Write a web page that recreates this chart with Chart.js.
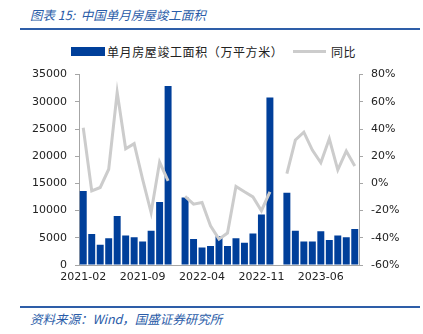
<!DOCTYPE html>
<html>
<head>
<meta charset="utf-8">
<script src="https://cdn.jsdelivr.net/npm/chart.js@4"></script>
<style>
    body { margin: 0; width: 423px; height: 334px; background: #fff; position: relative; overflow: hidden; font-family: "DejaVu Sans", sans-serif; }
    .title { position: absolute; left: 30px; top: 5px; font: italic 12.5px "Noto Sans CJK SC"; color: #2a5ca8; white-space: pre; }
    .rule { position: absolute; left: 20px; width: 400px; height: 2px; background: #2e5ea8; }
    .lg { position: absolute; font: 12px "Noto Sans CJK SC"; color: #222; white-space: nowrap; letter-spacing: 0.6px; }
    .swatch-bar { position: absolute; left: 71px; top: 47px; width: 34px; height: 9px; background: #003f9a; }
    .swatch-line { position: absolute; left: 293px; top: 50px; width: 33px; height: 3px; background: #cccccc; }
    .source { position: absolute; left: 30px; font: italic 12.5px "Noto Sans CJK SC"; color: #2a5ca8; }
    #wrap { position: absolute; left: 0; top: 60px; width: 423px; height: 235px; }
</style>
</head>
<body>
<div class="title">图表 15:  中国单月房屋竣工面积</div>
<div class="rule" style="top:28px"></div>
<div class="swatch-bar"></div>
<div class="lg" style="left:107px; top:43px">单月房屋竣工面积（万平方米）</div>
<div class="swatch-line"></div>
<div class="lg" style="left:331px; top:43px">同比</div>
<div id="wrap"><canvas id="chart"></canvas></div>
<div class="rule" style="top:306px"></div>
<div class="source" style="top:309px">资料来源：Wind，国盛证券研究所</div>
<script>
'use strict';

// 월별 카테고리 (1월은 데이터 없음)
const months = [
    '2021-02', '2021-03', '2021-04', '2021-05', '2021-06', '2021-07', '2021-08', '2021-09', '2021-10', '2021-11', '2021-12',
    '2022-01', '2022-02', '2022-03', '2022-04', '2022-05', '2022-06', '2022-07', '2022-08', '2022-09', '2022-10', '2022-11', '2022-12',
    '2023-01', '2023-02', '2023-03', '2023-04', '2023-05', '2023-06', '2023-07', '2023-08', '2023-09', '2023-10'
];

// 단월 준공면적 (만㎡)
const area = [
    13600, 5700, 3700, 4900, 9000, 5400, 5100, 4300, 6300, 11600, 32900,
    null, 12400, 4800, 3200, 3500, 5300, 3500, 4900, 4100, 5800, 9300, 30800,
    null, 13300, 6300, 4300, 4300, 6200, 4600, 5400, 5100, 6600
];

// 전년 동월 대비 (%)
const yoy = [
    40.9, -5.5, -3.0, 10.4, 67.0, 25.5, 29.2, 3.0, -21.4, 15.7, 1.8,
    null, -9.6, -15.3, -14.0, -31.2, -41.0, -36.5, -2.3, -6.2, -9.9, -20.1, -6.2,
    null, 7.2, 31.9, 37.7, 24.5, 15.2, 32.8, 9.9, 23.8, 12.8
];

const leftTicks = [0, 5000, 10000, 15000, 20000, 25000, 30000, 35000];
const rightTicks = [-60, -40, -20, 0, 20, 40, 60, 80];

const colors = {
    bar: '#003f9a',
    line: '#cccccc',
    axis: '#a6a6a6',
    text: '#222222'
};

const tickFont = { family: 'DejaVu Sans', size: 11 };

new Chart(document.getElementById('chart'), {
    data: {
        labels: months,
        datasets: [{
            type: 'line',
            label: '同比',
            data: yoy,
            yAxisID: 'y1',
            borderColor: colors.line,
            borderWidth: 3,
            pointRadius: 0,
            tension: 0,
            spanGaps: false,
            order: 0
        }, {
            type: 'bar',
            label: '单月房屋竣工面积（万平方米）',
            data: area,
            yAxisID: 'y',
            backgroundColor: colors.bar,
            barPercentage: 0.82,
            categoryPercentage: 1,
            order: 1
        }]
    },
    options: {
        responsive: true,
        maintainAspectRatio: false,
        animation: false,
        layout: { padding: { top: 12, left: 0, right: 0, bottom: 0 } },
        plugins: {
            legend: { display: false },
            tooltip: { enabled: false }
        },
        scales: {
            x: {
                grid: { display: false, drawTicks: false },
                border: { color: colors.axis },
                ticks: {
                    color: colors.text,
                    font: tickFont,
                    autoSkip: false,
                    maxRotation: 0,
                    padding: 6,
                    callback: function(value, index) {
                        return index % 7 === 0 ? months[index] : '';
                    }
                },
                afterFit: scale => { scale.height = 30; }
            },
            y: {
                position: 'left',
                min: 0,
                max: 35000,
                afterBuildTicks: scale => { scale.ticks = leftTicks.map(v => ({ value: v })); },
                grid: { display: true, drawOnChartArea: false, tickLength: 4, color: colors.axis },
                border: { color: colors.axis },
                ticks: { color: colors.text, font: tickFont, padding: 8, callback: value => String(value) },
                afterFit: scale => { scale.width = 79; }
            },
            y1: {
                position: 'right',
                min: -60,
                max: 80,
                afterBuildTicks: scale => { scale.ticks = rightTicks.map(v => ({ value: v })); },
                grid: { display: true, drawOnChartArea: false, tickLength: 4, color: colors.axis },
                border: { color: colors.axis },
                ticks: { color: colors.text, font: tickFont, padding: 8, callback: value => `${value}%` },
                afterFit: scale => { scale.width = 64; }
            }
        }
    }
});
</script>
</body>
</html>
